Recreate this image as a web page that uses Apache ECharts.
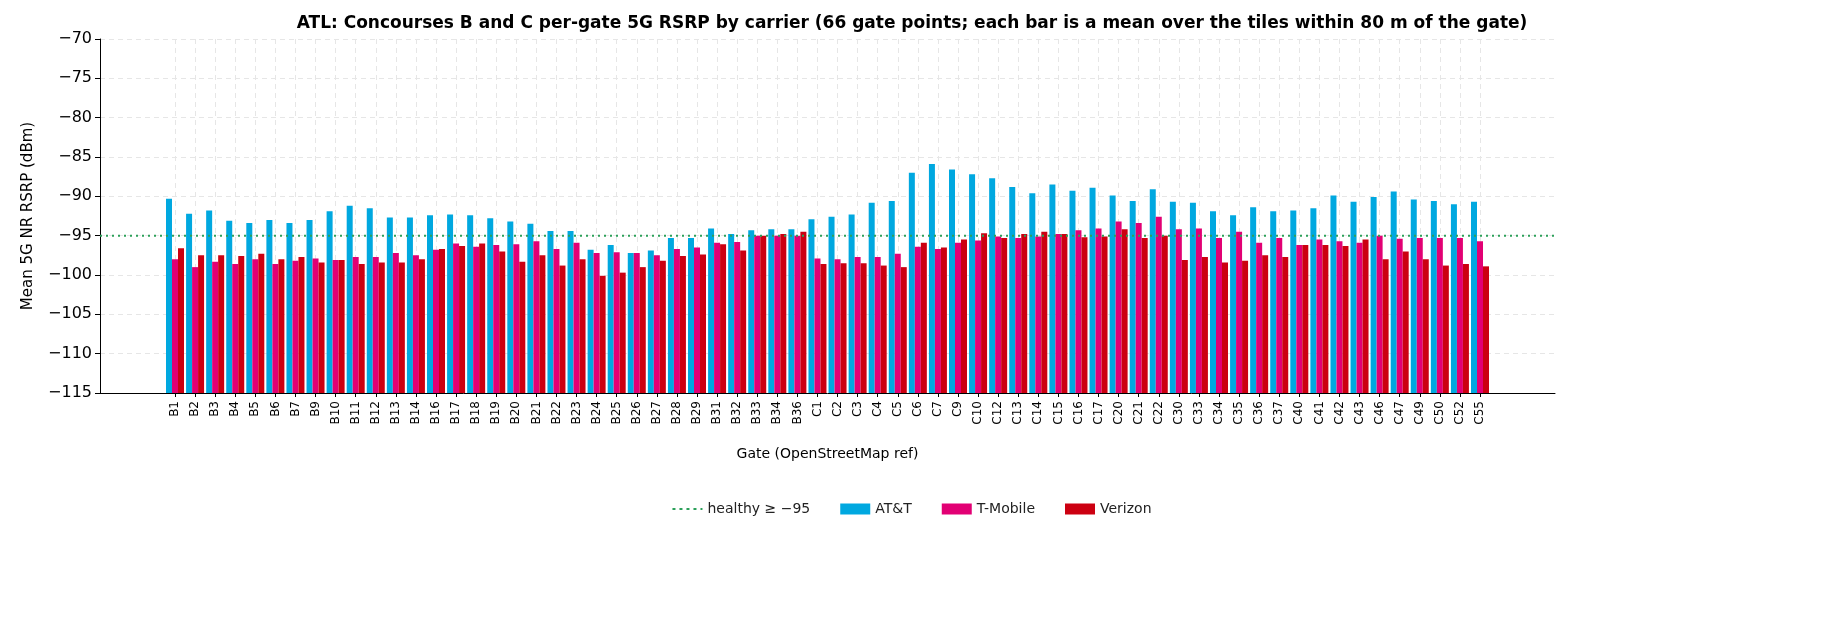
<!DOCTYPE html>
<html><head><meta charset="utf-8">
<script src="https://cdn.jsdelivr.net/npm/echarts@6/dist/echarts.min.js"></script>
<style>html,body{margin:0;padding:0;background:#fff}#c{width:1824px;height:629px}</style>
</head><body><div id="c"></div>
<script>
const gates = ["B1","B2","B3","B4","B5","B6","B7","B9","B10","B11","B12","B13","B14","B16","B17","B18","B19","B20","B21","B22","B23","B24","B25","B26","B27","B28","B29","B31","B32","B33","B34","B36","C1","C2","C3","C4","C5","C6","C7","C9","C10","C12","C13","C14","C15","C16","C17","C20","C21","C22","C30","C33","C34","C35","C36","C37","C40","C41","C42","C43","C46","C47","C49","C50","C52","C55"];
const att = [-90.3,-92.2,-91.8,-93.1,-93.4,-93,-93.4,-93,-91.9,-91.2,-91.5,-92.7,-92.7,-92.4,-92.3,-92.4,-92.8,-93.2,-93.5,-94.4,-94.4,-96.8,-96.2,-97.2,-96.9,-95.3,-95.3,-94.1,-94.8,-94.3,-94.2,-94.2,-92.9,-92.6,-92.3,-90.8,-90.6,-87,-85.9,-86.6,-87.2,-87.7,-88.8,-89.6,-88.5,-89.3,-88.9,-89.9,-90.6,-89.1,-90.7,-90.8,-91.9,-92.4,-91.4,-91.9,-91.8,-91.5,-89.9,-90.7,-90.1,-89.4,-90.4,-90.6,-91,-90.7];
const tmobile = [-98,-99,-98.3,-98.6,-98,-98.6,-98.2,-97.9,-98.1,-97.7,-97.7,-97.2,-97.5,-96.8,-96,-96.4,-96.2,-96.1,-95.7,-96.7,-95.9,-97.2,-97.1,-97.2,-97.5,-96.7,-96.5,-95.9,-95.8,-95,-95,-95,-97.9,-98,-97.7,-97.7,-97.3,-96.4,-96.7,-95.9,-95.6,-95.1,-95.3,-95.1,-94.8,-94.3,-94.1,-93.2,-93.4,-92.6,-94.2,-94.1,-95.3,-94.5,-95.9,-95.3,-96.2,-95.5,-95.7,-95.9,-95,-95.4,-95.3,-95.3,-95.3,-95.7];
const verizon = [-96.6,-97.5,-97.5,-97.6,-97.3,-98,-97.7,-98.4,-98.1,-98.6,-98.4,-98.4,-98,-96.7,-96.3,-96,-97,-98.3,-97.5,-98.8,-98,-100.1,-99.7,-99,-98.2,-97.6,-97.4,-96.1,-96.9,-95,-94.8,-94.5,-98.6,-98.5,-98.5,-98.8,-99,-95.9,-96.5,-95.5,-94.7,-95.3,-94.8,-94.5,-94.8,-95.2,-95.1,-94.2,-95.3,-95,-98.1,-97.7,-98.4,-98.2,-97.5,-97.7,-96.2,-96.2,-96.3,-95.5,-98,-97,-98,-98.8,-98.6,-98.9];
const yTicks = [-115,-110,-105,-100,-95,-90,-85,-80,-75,-70];
const healthy = -95;

const yMin = yTicks[0], yMax = yTicks[yTicks.length-1];
const chart = echarts.init(document.getElementById('c'));
const gridLine = {show:true, lineStyle:{color:'#e6e6e6', type:[5,4], width:1}};
// bars grow from the axis floor: plotted as height above yMin on a hidden axis of the same span
const bar = (name, data, color) => ({name, type:'bar', xAxisIndex:1, yAxisIndex:1, data:data.map(v => v - yMin),
  barWidth:6, barGap:'0%', itemStyle:{color}, emphasis:{disabled:true}});
chart.setOption({
  animation:false,
  textStyle:{fontFamily:'DejaVu Sans'},
  title:{text:'ATL: Concourses B and C per-gate 5G RSRP by carrier (66 gate points; each bar is a mean over the tiles within 80 m of the gate)',
    left:'center', top:10, textStyle:{fontSize:17, fontWeight:'bold', color:'#000', fontFamily:'DejaVu Sans'}},
  legend:{bottom:108, left:'center', itemWidth:30, itemHeight:11, itemGap:30,
    textStyle:{fontSize:14, color:'#222'},
    data:[{name:'healthy ≥ −95', icon:'path://M0,4h3v2h-3zM7,4h3v2h-3zM14,4h3v2h-3zM21,4h3v2h-3zM28,4h2v2h-2z'},
      {name:'AT&T', icon:'rect'},{name:'T-Mobile', icon:'rect'},{name:'Verizon', icon:'rect'}]},
  grid:[{left:100, right:269, top:39, bottom:236},{left:175, right:344, top:39, bottom:236}],
  xAxis:[
    {type:'value', gridIndex:0, min:0, max:1, axisLabel:{show:false}, axisTick:{show:false}, splitLine:{show:false},
     axisLine:{show:true, lineStyle:{color:'#000'}}, name:'Gate (OpenStreetMap ref)', nameLocation:'middle', nameGap:54,
     nameTextStyle:{fontSize:14, color:'#000'}},
    {type:'category', gridIndex:1, data:gates, boundaryGap:false, axisLine:{show:false},
     axisTick:{show:true, lineStyle:{color:'#000'}, length:4}, splitLine:gridLine,
     axisLabel:{rotate:90, fontSize:12, color:'#000', interval:0, margin:8}}
  ],
  yAxis:[
    {type:'value', min:yMin, max:yMax, interval:5, gridIndex:0, axisLine:{show:true, lineStyle:{color:'#000'}},
      axisTick:{show:true, length:5, lineStyle:{color:'#000'}},
      axisLabel:{fontSize:16, color:'#000', margin:8, formatter:v => String(v).replace('-', '−')}, splitLine:gridLine,
      name:'Mean 5G NR RSRP (dBm)', nameLocation:'middle', nameGap:64, nameTextStyle:{fontSize:15, color:'#000'}},
    {type:'value', gridIndex:1, min:0, max:yMax - yMin, show:false, splitLine:{show:false}}
  ],
  series:[
    {name:'healthy ≥ −95', type:'line', xAxisIndex:0, yAxisIndex:0, data:[[0,healthy],[1,healthy]], symbol:'none',
     lineStyle:{color:'#2ca05a', width:2, type:[2,4]}, itemStyle:{color:'#2ca05a'}, z:5},
    bar('AT&T', att, '#00a8e0'),
    bar('T-Mobile', tmobile, '#e20074'),
    bar('Verizon', verizon, '#cc0011')
  ]
});
</script></body></html>
